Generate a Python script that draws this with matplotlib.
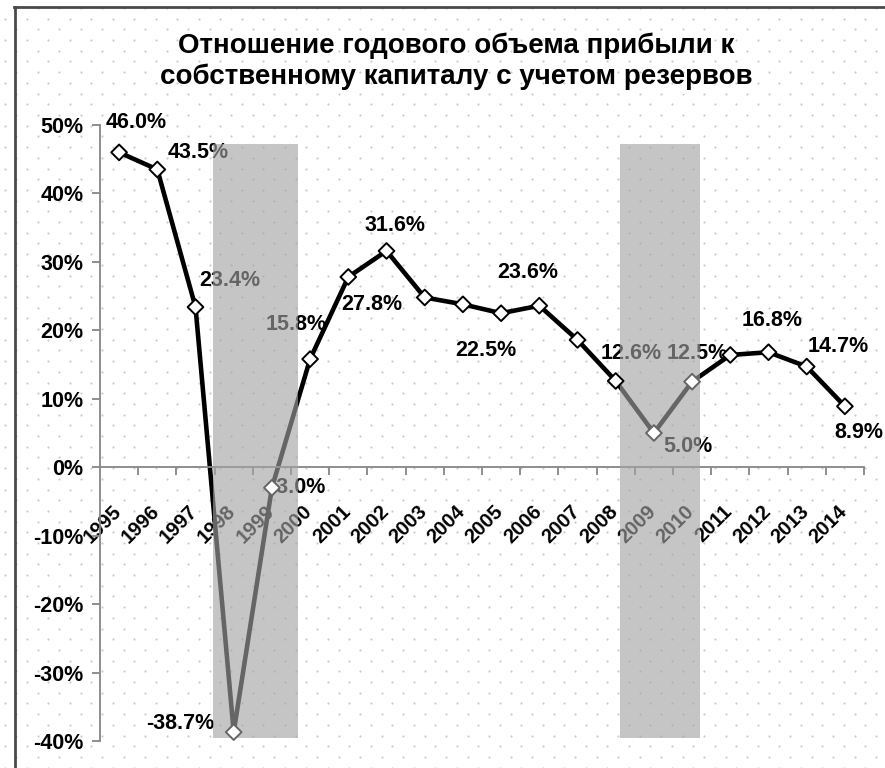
import numpy as np
import matplotlib
matplotlib.use('Agg')
import matplotlib.pyplot as plt
from matplotlib.patches import Rectangle
from matplotlib.transforms import ScaledTranslation

plt.rcParams['font.family'] = ['Liberation Sans', 'DejaVu Sans']

# ---------------- data ----------------
years = [str(y) for y in range(1995, 2015)]
values = [46.0, 43.5, 23.4, -38.7, -3.0, 15.8, 27.8, 31.6, 24.8, 23.8,
          22.5, 23.6, 18.6, 12.6, 5.0, 12.5, 16.4, 16.8, 14.7, 8.9]
show_label = [True, True, True, True, True, True, True, True, False, False,
              True, True, False, True, True, True, False, True, True, True]
# crisis shading (category-index units, percent)
span_x = [(2.46, 4.68), (13.1, 15.2)]
span_y = (-39.6, 47.2)
yticks = [-40, -30, -20, -10, 0, 10, 20, 30, 40, 50]
title = "Отношение годового объема прибыли к\nсобственному капиталу с учетом резервов"

# label offsets in pixels (style)
offsets = [(17, 30), (41, 17), (34, 27), (-53, 9), (25, 0), (-14, 35),
           (24, -28), (9, 25), None, None, (-15, -37), (-12, 33), None,
           (15, 27), (34, -14), (5, 28), None, (4, 32), (32, 20), (14, -26)]

W, H = 885, 768
fig = plt.figure(figsize=(W / 100, H / 100), dpi=100)

# background with dot texture and frame
bg = fig.add_axes([0, 0, 1, 1], zorder=0)
bg.set_xlim(0, W)
bg.set_ylim(H, 0)
bg.axis('off')
rows = np.arange(-2.7, H + 11, 10.7)
xs, ys = [], []
for i, yy in enumerate(rows):
    x0 = 5.3 + (10.75 if i % 2 else 0.0)
    xr = np.arange(x0, W + 22, 21.5)
    xs.append(xr)
    ys.append(np.full_like(xr, yy))
bg.scatter(np.concatenate(xs), np.concatenate(ys), s=2.4, c='#cacaca',
           linewidths=0)
bg.plot([15, 15], [H + 5, 6.5], color='#4a4a4a', lw=2.0)
bg.plot([14, W + 5], [6.5, 6.5], color='#4a4a4a', lw=2.0)

# main axes
ax = fig.add_axes([100 / W, 1 - 741 / H, 764 / W, 616 / H], zorder=1)
ax.set_facecolor('none')
ax.set_xlim(-0.5, 19.5)
ax.set_ylim(-40, 50)

axis_gray = '#868686'
for s in ['top', 'right']:
    ax.spines[s].set_visible(False)
ax.spines['bottom'].set_position(('data', 0))
ax.spines['bottom'].set_color(axis_gray)
ax.spines['left'].set_color(axis_gray)
ax.spines['bottom'].set_linewidth(1.3)
ax.spines['left'].set_linewidth(1.3)

x = np.arange(len(years))
ax.set_xticks(x)
ax.set_xticklabels(years, rotation=45, ha='right', fontsize=14.5,
                   fontweight='bold')
ax.tick_params(axis='x', which='major', length=0, pad=25)
shift = ScaledTranslation(6 / 100, 0, fig.dpi_scale_trans)
for lab in ax.get_xticklabels():
    lab.set_transform(lab.get_transform() + shift)
ax.set_xticks(np.arange(0.5, len(years), 1.0), minor=True)
ax.tick_params(axis='x', which='minor', length=6, width=1.3,
               color=axis_gray)
ax.set_yticks(yticks)
ax.set_yticklabels([f"{v}%" for v in yticks], fontsize=15.5,
                   fontweight='bold')
ax.tick_params(axis='y', length=6, width=1.3, color=axis_gray, pad=6)

# line
ax.plot(x, values, color='black', lw=3.3, zorder=2.2,
        solid_joinstyle='round')

# data labels
for i, v in enumerate(values):
    if show_label[i] and offsets[i] is not None:
        ax.annotate(f"{v:.1f}%", (i, v), xytext=offsets[i],
                    textcoords='offset pixels', ha='center', va='center',
                    fontsize=15.5, fontweight='bold', color='black',
                    zorder=3)

# translucent crisis overlay
for (x0, x1) in span_x:
    ax.add_patch(Rectangle((x0, span_y[0]), x1 - x0, span_y[1] - span_y[0],
                           facecolor='#a3a3a3', alpha=0.624,
                           edgecolor='none', zorder=3.5, clip_on=False))

# markers
edge_cols = []
for i in x:
    inside = any(a <= i <= b for a, b in span_x)
    edge_cols.append('#666666' if inside else 'black')
ax.scatter(x, values, marker='D', s=8.0 ** 2, facecolors='white',
           edgecolors=edge_cols, linewidths=1.4, zorder=4)

fig.text(456 / W, 1 - 61 / H, title, ha='center', va='center',
         fontsize=20, fontweight='bold', linespacing=1.2)

fig.savefig('out.png', dpi=100)
